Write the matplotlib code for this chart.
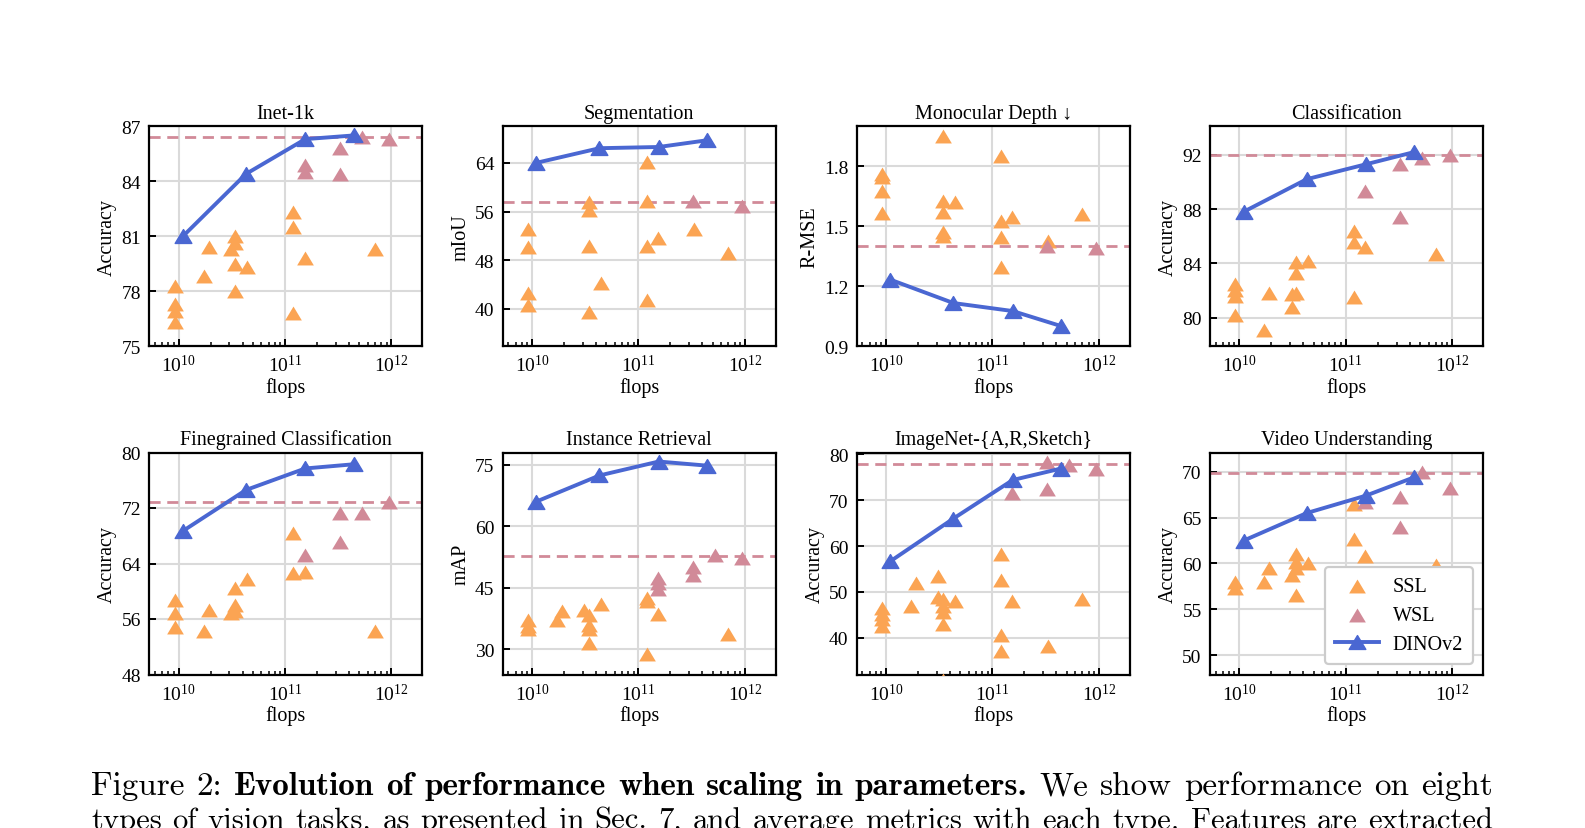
import numpy as np
import matplotlib
matplotlib.use("Agg")
import matplotlib.pyplot as plt
from matplotlib.path import Path
from matplotlib.ticker import LogLocator, NullFormatter

# ---------------- data ----------------
# flops of the model families (x axis)
SSL_A, SSL_B, SSL_C, SSL_D, SSL_E = 9.2e9, 1.72e10, 1.92e10, 3.1e10, 3.4e10
SSL_F, SSL_G, SSL_H, SSL_I, SSL_J = 4.4e10, 1.2e11, 1.53e11, 3.3e11, 7.0e11
WSL_FLOPS = [1.53e11, 3.25e11, 5.25e11, 9.5e11]
DINO_FLOPS = [1.1e10, 4.3e10, 1.55e11, 4.4e11]

titles = ["Inet-1k", "Segmentation", "Monocular Depth \u2193", "Classification",
          "Finegrained Classification", "Instance Retrieval",
          "ImageNet-{A,R,Sketch}", "Video Understanding"]
ylabels = ["Accuracy", "mIoU", "R-MSE", "Accuracy",
           "Accuracy", "mAP", "Accuracy", "Accuracy"]
yticks = [[75, 78, 81, 84, 87], [40, 48, 56, 64], [0.9, 1.2, 1.5, 1.8], [80, 84, 88, 92],
          [48, 56, 64, 72, 80], [30, 45, 60, 75], [40, 50, 60, 70, 80], [50, 55, 60, 65, 70]]
ylims = [(75, 87), (33.9, 70), (0.9, 2.0), (77.9, 94.1),
         (48, 80), (23.9, 78), (32, 80.4), (47.9, 72.1)]

# Inet-1k
inet_ssl_x = [SSL_A]*4 + [SSL_B, SSL_C, SSL_D] + [SSL_E]*4 + [SSL_F] + [SSL_G]*3 + [SSL_H, SSL_J]
inet_ssl_y = [78.3, 77.3, 76.9, 76.3, 78.8, 80.4, 80.3, 81.0, 80.6, 79.5, 78.0, 79.3,
              82.3, 81.5, 76.8, 79.8, 80.3]
inet_wsl_x = [WSL_FLOPS[0]]*2 + [WSL_FLOPS[1]]*2 + [WSL_FLOPS[2], WSL_FLOPS[3]]
inet_wsl_y = [84.9, 84.5, 85.8, 84.4, 86.4, 86.3]
inet_dino = [81.0, 84.4, 86.3, 86.5]

# Segmentation
seg_ssl_x = [SSL_A]*4 + [SSL_E]*4 + [SSL_F] + [SSL_G]*4 + [SSL_H, SSL_I, SSL_J]
seg_ssl_y = [53.2, 50.2, 42.6, 40.6, 57.5, 56.2, 50.4, 39.5, 44.2,
             64.1, 57.7, 50.4, 41.4, 51.7, 53.2, 49.2]
seg_wsl_x = [WSL_FLOPS[1], WSL_FLOPS[3]]
seg_wsl_y = [57.8, 56.9]
seg_dino = [64.0, 66.4, 66.6, 67.7]

# Monocular depth
depth_ssl_x = [SSL_A]*4 + [SSL_E]*5 + [SSL_F] + [SSL_G]*4 + [SSL_H, SSL_I, SSL_J]
depth_ssl_y = [1.762, 1.745, 1.678, 1.565, 1.953, 1.628, 1.57, 1.47, 1.453, 1.62,
               1.853, 1.528, 1.445, 1.295, 1.548, 1.428, 1.562]
depth_wsl_x = [WSL_FLOPS[1], WSL_FLOPS[3]]
depth_wsl_y = [1.403, 1.39]
depth_dino = [1.232, 1.115, 1.075, 1.0]

# Classification
cls_ssl_x = [SSL_A]*4 + [SSL_B, SSL_C] + [SSL_D]*2 + [SSL_E]*3 + [SSL_F] + [SSL_G]*3 + [SSL_H, SSL_J]
cls_ssl_y = [82.5, 82.0, 81.6, 80.2, 79.1, 81.8, 80.8, 81.7, 84.1, 83.3, 81.8, 84.2,
             86.4, 85.6, 81.5, 85.2, 84.7]
cls_wsl_x = [WSL_FLOPS[0]] + [WSL_FLOPS[1]]*2 + [WSL_FLOPS[2], WSL_FLOPS[3]]
cls_wsl_y = [89.3, 91.3, 87.4, 91.75, 92.0]
cls_dino = [87.8, 90.2, 91.3, 92.2]

# Finegrained classification
fg_ssl_x = [SSL_A]*3 + [SSL_B, SSL_C, SSL_D] + [SSL_E]*3 + [SSL_F] + [SSL_G]*2 + [SSL_H, SSL_J]
fg_ssl_y = [58.7, 56.8, 54.8, 54.3, 57.3, 56.8, 60.4, 58.0, 57.2, 61.7, 68.4, 62.7, 62.8, 54.3]
fg_wsl_x = [WSL_FLOPS[0]] + [WSL_FLOPS[1]]*2 + [WSL_FLOPS[2], WSL_FLOPS[3]]
fg_wsl_y = [65.2, 71.3, 67.1, 71.3, 72.9]
fg_dino = [68.7, 74.6, 77.7, 78.3]

# Instance retrieval
ret_ssl_x = [SSL_A]*3 + [SSL_B, SSL_C, SSL_D] + [SSL_E]*4 + [SSL_F] + [SSL_G]*3 + [SSL_H, SSL_J]
ret_ssl_y = [37.2, 35.8, 34.9, 37.3, 39.3, 39.5, 38.3, 36.0, 35.1, 31.5, 41.0,
             42.5, 41.7, 29.0, 38.7, 33.7]
ret_wsl_x = [WSL_FLOPS[0]]*3 + [WSL_FLOPS[1]]*2 + [WSL_FLOPS[2], WSL_FLOPS[3]]
ret_wsl_y = [47.4, 46.1, 44.7, 50.0, 48.2, 52.9, 52.4]
ret_dino = [66.05, 72.4, 75.8, 74.8]

# ImageNet-{A,R,Sketch}
rob_ssl_x = [SSL_A]*4 + [SSL_B, SSL_C] + [SSL_D]*2 + [SSL_E]*5 + [SSL_F] + [SSL_G]*4 + [SSL_H, SSL_I, SSL_J]
rob_ssl_y = [46.6, 45.1, 44.0, 42.5, 46.9, 51.9, 48.9, 53.5, 48.4, 46.9, 45.7, 43.1, 30.7,
             48.0, 58.2, 52.7, 40.7, 37.1, 48.0, 38.3, 48.4]
rob_wsl_x = [WSL_FLOPS[0]] + [WSL_FLOPS[1]]*2 + [WSL_FLOPS[2], WSL_FLOPS[3]]
rob_wsl_y = [71.5, 78.3, 72.4, 77.6, 76.9]
rob_dino = [56.7, 66.0, 74.4, 76.9]

# Video understanding
vid_ssl_x = [SSL_A]*2 + [SSL_B, SSL_C, SSL_D] + [SSL_E]*4 + [SSL_F] + [SSL_G]*2 + [SSL_H, SSL_J]
vid_ssl_y = [58.0, 57.3, 58.0, 59.5, 58.8, 61.0, 60.2, 59.5, 56.6, 60.0, 66.5, 62.7, 60.8, 59.8]
vid_wsl_x = [WSL_FLOPS[0]] + [WSL_FLOPS[1]]*2 + [WSL_FLOPS[2], WSL_FLOPS[3]]
vid_wsl_y = [66.7, 67.2, 64.0, 70.0, 68.2]
vid_dino = [62.5, 65.5, 67.4, 69.4]

# best WSL level (dashed line)
wsl_best = [86.4, 57.5, 1.40, 92.0, 72.9, 52.8, 78.0, 69.9]

caption_line1 = [("Figure", "n"), ("2:", "n"), ("Evolution", "b"), ("of", "b"),
                 ("performance", "b"), ("when", "b"), ("scaling", "b"), ("in", "b"),
                 ("parameters.", "b"), ("We", "n"), ("show", "n"), ("performance", "n"),
                 ("on", "n"), ("eight", "n")]
caption_line2 = ("types of vision tasks, as presented in Sec. 7, and average metrics "
                 "with each type. Features are extracted")

# ---------------- style ----------------
SSL_C_ = "#FBA453"
WSL_C_ = "#D18A98"
DINO_C_ = "#4A67D2"

plt.rcParams.update({
    "font.family": ["Liberation Serif", "DejaVu Serif"],
    "mathtext.fontset": "stix",
    "font.size": 14,
    "axes.linewidth": 1.6,
})

tri = Path([(0, 1), (-1.2, -1), (1.2, -1), (0, 1)],
           [Path.MOVETO, Path.LINETO, Path.LINETO, Path.CLOSEPOLY])

W, H = 1585, 829
fig = plt.figure(figsize=(W / 100, H / 100), dpi=100)

lefts_px = [149.3, 502.7, 856.7, 1210.0]
width_px = 273.0
rows_px = [(127.3, 347.0), (453.5, 675.5)]

ssl_xs = [inet_ssl_x, seg_ssl_x, depth_ssl_x, cls_ssl_x, fg_ssl_x, ret_ssl_x, rob_ssl_x, vid_ssl_x]
ssl_ys = [inet_ssl_y, seg_ssl_y, depth_ssl_y, cls_ssl_y, fg_ssl_y, ret_ssl_y, rob_ssl_y, vid_ssl_y]
wsl_xs = [inet_wsl_x, seg_wsl_x, depth_wsl_x, cls_wsl_x, fg_wsl_x, ret_wsl_x, rob_wsl_x, vid_wsl_x]
wsl_ys = [inet_wsl_y, seg_wsl_y, depth_wsl_y, cls_wsl_y, fg_wsl_y, ret_wsl_y, rob_wsl_y, vid_wsl_y]
dinos = [inet_dino, seg_dino, depth_dino, cls_dino, fg_dino, ret_dino, rob_dino, vid_dino]

for i in range(8):
    r, c = divmod(i, 4)
    top, bot = rows_px[r]
    ax = fig.add_axes([lefts_px[c] / W, 1 - bot / H, width_px / W, (bot - top) / H])
    ax.axhline(wsl_best[i], color=WSL_C_, ls=(0, (4, 2.4)), lw=2.0, zorder=1.5)
    ax.scatter(ssl_xs[i], ssl_ys[i], marker=tri, s=145, color=SSL_C_, linewidths=0,
               zorder=3, label="SSL")
    ax.scatter(wsl_xs[i], wsl_ys[i], marker=tri, s=145, color=WSL_C_, linewidths=0,
               zorder=3, label="WSL")
    ax.plot(DINO_FLOPS, dinos[i], "-", marker=tri, color=DINO_C_, lw=2.8, ms=12,
            zorder=4, label="DINOv2")
    ax.set_xscale("log")
    ax.set_xlim(5.3e9, 1.95e12)
    ax.set_ylim(*ylims[i])
    ax.set_yticks(yticks[i])
    ax.xaxis.set_major_locator(LogLocator(base=10, numticks=10))
    ax.xaxis.set_minor_locator(LogLocator(base=10, subs=np.arange(2, 10), numticks=30))
    ax.xaxis.set_minor_formatter(NullFormatter())
    ax.tick_params(axis="both", which="major", direction="in", length=5, width=1.4,
                   labelsize=14, pad=6, top=False, right=False)
    ax.tick_params(axis="x", which="minor", direction="in", length=2.8, width=1.1,
                   top=False)
    ax.grid(True, which="major", color="#dadada", lw=1.5)
    ax.set_axisbelow(True)
    ax.set_title(titles[i], fontsize=14.5, pad=6)
    ax.set_xlabel("flops", fontsize=14.5, labelpad=1)
    ax.set_ylabel(ylabels[i], fontsize=14.5, labelpad=3)
    if i == 7:
        leg = ax.legend(loc="lower right", fontsize=14.5, frameon=True, fancybox=True,
                        framealpha=1.0, edgecolor="#cccccc", handlelength=2.2,
                        handletextpad=0.65, borderpad=0.5, labelspacing=0.5,
                        borderaxespad=0.5)
        leg.get_frame().set_linewidth(1.6)

# ---------------- caption (justified) ----------------
renderer = fig.canvas.get_renderer()
x0_px, x1_px = 91.0, 1493.0
span = x1_px - x0_px


def fam_of(kind):
    return "cmb10" if kind == "b" else "cmr10"


def measure(s, fam, fs):
    t = fig.text(0, 0, s, fontfamily=fam, fontsize=fs)
    w = t.get_window_extent(renderer).width
    t.remove()
    return w


space10 = measure("x x", "cmr10", 10) - measure("xx", "cmr10", 10)
words2 = [(w, "n") for w in caption_line2.split(" ")]


def natural(words, fs):
    return sum(measure(w, fam_of(k), fs) for w, k in words) + (len(words) - 1) * space10 * fs / 10


fs1 = 10 * span / natural(caption_line1, 10) * 0.99
fs2 = min(fs1, 10 * span / natural(words2, 10) * 0.995)


def justify(words, y_px, fs):
    ts = []
    for w, kind in words:
        ts.append(fig.text(0, 1 - y_px / H, w, fontfamily=fam_of(kind), fontsize=fs,
                           va="baseline", ha="left"))
    widths = [t.get_window_extent(renderer).width for t in ts]
    gap = (span - sum(widths)) / (len(ts) - 1)
    x = x0_px
    for t, wd in zip(ts, widths):
        t.set_x(x / W)
        x += wd + gap


justify(caption_line1, 795.5, fs1)
justify(words2, 829.0, fs2)

fig.savefig("out.png", dpi=100)
